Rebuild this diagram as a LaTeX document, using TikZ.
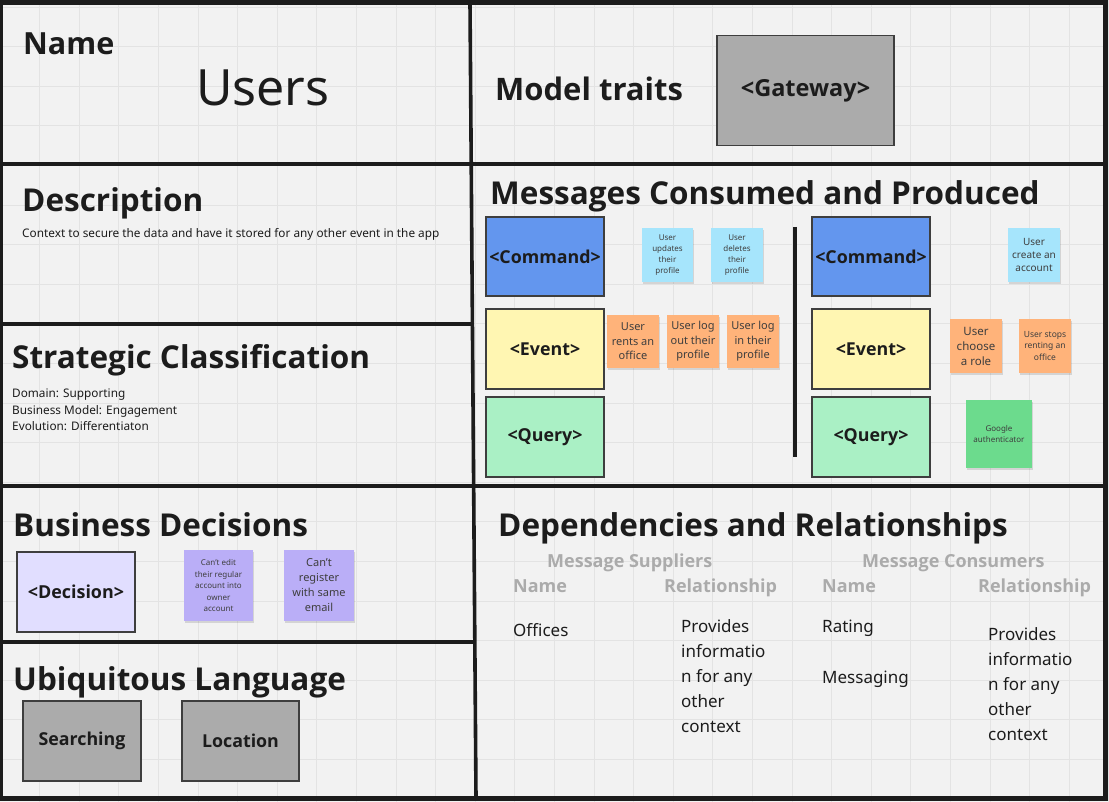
\documentclass[tikz,border=0pt]{standalone}
\usepackage{fontspec}
\setmainfont{Noto Sans}
\newfontfamily\bfam{Open Sans}
\usetikzlibrary{shadows}
\definecolor{ink}{HTML}{1C1C1C}
\definecolor{bg}{HTML}{F2F2F2}
\definecolor{gridc}{HTML}{E3E3E3}
\definecolor{cmdc}{RGB}{99,150,238}
\definecolor{evc}{RGB}{255,246,178}
\definecolor{qc}{RGB}{170,240,197}
\definecolor{cyanst}{RGB}{166,229,252}
\definecolor{orst}{RGB}{255,179,122}
\definecolor{grst}{RGB}{108,219,141}
\definecolor{decc}{RGB}{225,222,255}
\definecolor{purst}{RGB}{186,174,247}
\definecolor{grayb}{HTML}{ABABAB}
\definecolor{grayt}{HTML}{ABABAB}
\begin{document}
\begin{tikzpicture}[x=1pt,y=-1pt,
  rule/.style={draw=ink,line width=3.6pt},
  title/.style={anchor=base west,inner sep=0,text=ink,font=\bfam\bfseries\fontsize{31.5}{36}\selectfont},
  body/.style={anchor=base west,inner sep=0,text=ink,font=\fontsize{11.8}{14}\selectfont},
  box/.style={draw=ink!85,line width=1.5pt,inner sep=0,text=ink,font=\bfam\bfseries\fontsize{17.8}{22}\selectfont},
  sticky/.style={inner sep=0,align=center,text=ink!85,drop shadow={shadow xshift=1pt,shadow yshift=-2pt,opacity=0.12,fill=black}},
  ghead/.style={anchor=base west,inner sep=0,text=grayt,font=\bfam\bfseries\fontsize{18}{22}\selectfont},
  dtext/.style={anchor=north west,inner sep=0,align=left,text=ink,font=\fontsize{17}{25}\selectfont},
]
\useasboundingbox (0,0) rectangle (1109,802);
\fill[bg] (0,0) rectangle (1109,802);
\foreach \i in {1,...,28} {\draw[gridc,line width=0.8pt] (\i*39.6,0) -- (\i*39.6,802);}
\foreach \j in {0,...,20} {\draw[gridc,line width=0.8pt] (0,7+\j*39.6) -- (1109,7+\j*39.6);}

% frame and dividers
\draw[rule,line width=5pt] (0.5,3) rectangle (1105,798);
\draw[rule] (470,3) -- (476,798);
\draw[rule] (0,164) -- (1105,164);
\draw[rule] (0,324) -- (472.3,324);
\draw[rule] (0,486) -- (1105,486);
\draw[rule] (0,642) -- (474.5,642);

% Name
\node[title,font=\bfam\bfseries\fontsize{30.5}{34}\selectfont] (tname) at (23,55) {Name};
\node[anchor=base west,inner sep=0,text=ink,font=\fontsize{50}{56}\selectfont] (users) at (196,106) {Users};

% Model traits
\node[title,font=\bfam\bfseries\fontsize{31}{35}\selectfont] (tmodel) at (495,101) {Model traits};
\node[box,fill=grayb,minimum width=177pt,minimum height=110pt,font=\bfam\bfseries\fontsize{23.5}{27}\selectfont] (gateway) at (805.5,90.5) {<Gateway>};

% Description
\node[title] (tdesc) at (22,212) {Description};
\node[body] (desc) at (22,238) {Context to secure the data and have it stored for any other event in the app};

% Strategic classification
\node[title] (tstrat) at (12,369) {Strategic Classification};
\node[body] (s1) at (12,397) {Domain: Supporting};
\node[body] (s2) at (12,414) {Business Model: Engagement};
\node[body] (s3) at (12,431) {Evolution: Differentiaton};

% Messages
\node[title] (tmsg) at (490,205) {Messages Consumed and Produced};
\node[box,fill=cmdc,minimum width=118pt,minimum height=79pt] (cmd1) at (545,256.5) {<Command>};
\node[box,fill=evc,minimum width=118pt,minimum height=80pt] (ev1) at (545,349) {<Event>};
\node[box,fill=qc,minimum width=118pt,minimum height=80pt] (q1) at (545,437) {<Query>};
\node[box,fill=cmdc,minimum width=118pt,minimum height=79pt] (cmd2) at (871,256.5) {<Command>};
\node[box,fill=evc,minimum width=118pt,minimum height=80pt] (ev2) at (871,349) {<Event>};
\node[box,fill=qc,minimum width=118pt,minimum height=80pt] (q2) at (871,437) {<Query>};
\draw[ink,line width=4pt] (795,227) -- (795,457);

\node[sticky,fill=cyanst,minimum width=51pt,minimum height=54pt,font=\fontsize{8}{11}\selectfont] (c1) at (667.5,255) {User\\updates\\their\\profile};
\node[sticky,fill=cyanst,minimum width=52pt,minimum height=54pt,font=\fontsize{8}{11}\selectfont] (c2) at (737,255) {User\\deletes\\their\\profile};
\node[sticky,fill=cyanst,minimum width=52pt,minimum height=54pt,font=\fontsize{10}{13.3}\selectfont] (c3) at (1034,255) {User\\create an\\account};
\node[sticky,fill=orst,minimum width=52pt,minimum height=53pt,font=\fontsize{11}{14.5}\selectfont] (o1) at (633,341.5) {User\\rents an\\office};
\node[sticky,fill=orst,minimum width=52pt,minimum height=53pt,font=\fontsize{11}{14.5}\selectfont] (o2) at (693,341.5) {User log\\out their\\profile};
\node[sticky,fill=orst,minimum width=52pt,minimum height=53pt,font=\fontsize{11}{14.5}\selectfont] (o3) at (753,341.5) {User log\\in their\\profile};
\node[sticky,fill=orst,minimum width=52pt,minimum height=54pt,font=\fontsize{11.5}{15}\selectfont] (o4) at (976,346) {User\\choose\\a role};
\node[sticky,fill=orst,minimum width=52pt,minimum height=54pt,font=\fontsize{8.5}{11.7}\selectfont] (o5) at (1045,346) {User stops\\renting an\\office};
\node[sticky,fill=grst,minimum width=66pt,minimum height=68pt,font=\fontsize{8}{10.7}\selectfont] (g1) at (999,434) {Google\\authenticator};

% Business decisions
\node[title] (tbus) at (13,536) {Business Decisions};
\node[box,fill=decc,minimum width=118pt,minimum height=80pt,font=\bfam\bfseries\fontsize{17.9}{21}\selectfont] (dec) at (76,592) {<Decision>};
\node[sticky,fill=purst,minimum width=69pt,minimum height=71pt,font=\fontsize{8}{11.5}\selectfont] (p1) at (218.5,585.5) {Can't edit\\their regular\\account into\\owner\\account};
\node[sticky,fill=purst,minimum width=70pt,minimum height=71pt,font=\fontsize{11}{15}\selectfont] (p2) at (319,585.5) {Can't\\register\\with same\\email};

% Ubiquitous language
\node[title] (tubi) at (13,690) {Ubiquitous Language};
\node[box,fill=grayb,minimum width=118pt,minimum height=80pt,font=\bfam\bfseries\fontsize{17.8}{21}\selectfont] (search) at (82,741) {Searching};
\node[box,fill=grayb,minimum width=117pt,minimum height=80pt,font=\bfam\bfseries\fontsize{17.8}{21}\selectfont] (loc) at (240.5,741) {Location};

% Dependencies
\node[title] (tdep) at (498,536) {Dependencies and Relationships};
\node[ghead] (sup) at (547,567) {Message Suppliers};
\node[ghead] (con) at (862,567) {Message Consumers};
\node[ghead] (n1) at (513,592) {Name};
\node[ghead] (r1) at (664,592) {Relationship};
\node[ghead] (n2) at (822,592) {Name};
\node[ghead] (r2) at (978,592) {Relationship};
\node[anchor=base west,inner sep=0,text=ink,font=\fontsize{17}{25}\selectfont] (off) at (513,636) {Offices};
\node[dtext] (rel1) at (681,619) {Provides\\informatio\\n for any\\other\\context};
\node[anchor=base west,inner sep=0,text=ink,font=\fontsize{17}{25}\selectfont] (rat) at (822,632) {Rating};
\node[anchor=base west,inner sep=0,text=ink,font=\fontsize{17}{25}\selectfont] (msgg) at (822,683) {Messaging};
\node[dtext] (rel2) at (988,627) {Provides\\informatio\\n for any\\other\\context};
\end{tikzpicture}
\end{document}
